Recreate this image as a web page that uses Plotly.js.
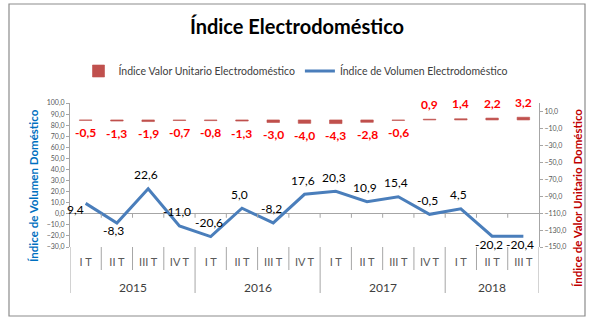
<!DOCTYPE html>
<html>
<head>
<meta charset="utf-8">
<script src="https://cdn.plot.ly/plotly-3.0.1.min.js"></script>
<style>html,body{margin:0;padding:0;background:#fff;}#chart{width:603px;height:325px;}</style>
</head>
<body>
<div id="chart"></div>
<script>
// ---- data ----
const quarters = ['I T','II T','III T','IV T','I T','II T','III T','IV T','I T','II T','III T','IV T','I T','II T','III T'];
const years = ['2015','2015','2015','2015','2016','2016','2016','2016','2017','2017','2017','2017','2018','2018','2018'];
const volumeIndex = [9.4,-8.3,22.6,-11.0,-20.6,5.0,-8.2,17.6,20.3,10.9,15.4,-0.5,4.5,-20.2,-20.4];
const unitValueIndex = [-0.5,-1.3,-1.9,-0.7,-0.8,-1.3,-3.0,-4.0,-4.3,-2.8,-0.6,0.9,1.4,2.2,3.2];
const volumeName = 'Índice de Volumen Electrodoméstico';
const unitValueName = 'Índice Valor Unitario Electrodoméstico';
const chartTitle = 'Índice Electrodoméstico';
const leftTitle = 'Índice de Volumen Doméstico';
const rightTitle = 'Índice de Valor Unitario Doméstico';

// ---- style ----
const volumeLabelPlacement = ['left','below','above','above','above','above','above','above','above','above','above','above','above','below','below'];
const FONT = 'Lato, "Liberation Sans", sans-serif';
const GRAY = '#A6A6A6';
const PL = 70, PR = 539, PT = 103, PB = 247;
const px2x = p => (p - PL) / (PR - PL);
const px2y = p => (PB - p) / (PB - PT);
const fmt = v => v.toFixed(1).replace('.', ',');
const idx = quarters.map((_, i) => i);

const traces = [
  {
    type: 'bar', name: unitValueName, x: idx, y: unitValueIndex, yaxis: 'y2',
    width: 0.4, marker: {color: '#C0504D', line: {color: '#C0504D', width: 0.6}},
    hoverinfo: 'skip', cliponaxis: false
  },
  {
    type: 'scatter', mode: 'lines', name: volumeName, x: idx, y: volumeIndex, yaxis: 'y',
    line: {color: '#4A7EBB', width: 3}, hoverinfo: 'skip', cliponaxis: false
  }
];

const annotations = [];
// bar labels
unitValueIndex.forEach((v, i) => {
  annotations.push({x: i, y: v, xref: 'x', yref: 'y2', text: fmt(v), showarrow: false,
    xanchor: 'center', yanchor: 'middle',
    yshift: v < 0 ? -12 : 15, font: {family: FONT, size: 12, color: '#FF0000', weight: 'bold'}});
});
// line labels
volumeIndex.forEach((v, i) => {
  const p = volumeLabelPlacement[i];
  const sh = p === 'above' ? {xshift: -2, yshift: 14} : p === 'below' ? {xshift: -3, yshift: -8} : {xshift: -10, yshift: -6};
  annotations.push(Object.assign({x: i, y: v, xref: 'x', yref: 'y', text: fmt(v), showarrow: false,
    xanchor: 'center', yanchor: 'middle',
    font: {family: FONT, size: 12, color: '#000000'}}, sh));
});
// year labels
[...new Set(years)].forEach(yr => {
  const ids = idx.filter(i => years[i] === yr);
  const mid = ids.reduce((a, b) => a + b, 0) / ids.length;
  annotations.push({x: mid, y: px2y(287), xref: 'x', yref: 'paper', text: yr, showarrow: false,
    xanchor: 'center', yanchor: 'middle',
    font: {family: FONT, size: 12, color: '#404040'}});
});
// axis titles
annotations.push({x: px2x(33), y: px2y(186), xref: 'paper', yref: 'paper', text: leftTitle, textangle: -90,
  xanchor: 'center', yanchor: 'middle',
  showarrow: false, font: {family: FONT, size: 11.5, color: '#0070C0', weight: 'bold'}});
annotations.push({x: px2x(577), y: px2y(198), xref: 'paper', yref: 'paper', text: rightTitle, textangle: -90,
  xanchor: 'center', yanchor: 'middle',
  showarrow: false, font: {family: FONT, size: 11.5, color: '#C00000', weight: 'bold'}});

const shapes = [];
for (let b = 0; b <= quarters.length; b++) {
  const isYear = b === 0 || b === quarters.length || years[b] !== years[b - 1];
  shapes.push({type: 'line', xref: 'x', yref: 'paper', x0: b - 0.5, x1: b - 0.5,
    y0: px2y(PB), y1: px2y(isYear ? 293 : 270), line: {color: GRAY, width: 1}});
  if (b > 0 && b < quarters.length) {
    shapes.push({type: 'line', xref: 'x', yref: 'y', ysizemode: 'pixel', yanchor: 0,
      x0: b - 0.5, x1: b - 0.5, y0: 0, y1: -4, line: {color: GRAY, width: 1}});
  }
}
// chart frame
shapes.push({type: 'rect', xref: 'paper', yref: 'paper', x0: px2x(9), x1: px2x(585), y0: px2y(316), y1: px2y(4),
  line: {color: '#8C8C8C', width: 1.2}});

const layout = {
  width: 603, height: 325,
  margin: {l: PL, r: 603 - PR, t: PT, b: 325 - PB, pad: 0},
  paper_bgcolor: '#ffffff', plot_bgcolor: 'rgba(0,0,0,0)',
  separators: ',.',
  font: {family: FONT, color: '#404040'},
  title: {text: chartTitle, x: 297 / 603, xanchor: 'center', y: 1 - 27 / 325, yanchor: 'middle',
    font: {family: FONT, size: 20, color: '#000000', weight: 'bold'}},
  showlegend: true,
  legend: {orientation: 'h', x: px2x(296), xanchor: 'center', y: px2y(71), yanchor: 'middle',
    font: {family: FONT, size: 10.5, color: '#404040'}, itemwidth: 30, bgcolor: 'rgba(0,0,0,0)'},
  xaxis: {range: [-0.5, quarters.length - 0.5], tickmode: 'array', tickvals: idx, ticktext: quarters,
    showgrid: false, zeroline: false, showline: false, ticks: '', ticklabelstandoff: 7,
    tickfont: {family: FONT, size: 11, color: '#595959'}, fixedrange: true},
  yaxis: {range: [-30, 100], tick0: 0, dtick: 10, tickformat: '.1f', showgrid: false,
    zeroline: true, zerolinecolor: GRAY, zerolinewidth: 1, showline: true, linecolor: GRAY,
    ticks: 'outside', ticklen: 3, tickcolor: GRAY, tickfont: {family: FONT, size: 7, color: '#595959'}, fixedrange: true},
  yaxis2: {overlaying: 'y', side: 'right', range: [-150, 20], tick0: -150, dtick: 20, tickformat: '.1f',
    showgrid: false, zeroline: false, showline: true, linecolor: GRAY,
    ticks: 'outside', ticklen: 3, tickcolor: GRAY, tickfont: {family: FONT, size: 7, color: '#595959'}, fixedrange: true},
  annotations: annotations,
  shapes: shapes
};

Plotly.newPlot('chart', traces, layout, {staticPlot: true, displayModeBar: false});
</script>
</body>
</html>
